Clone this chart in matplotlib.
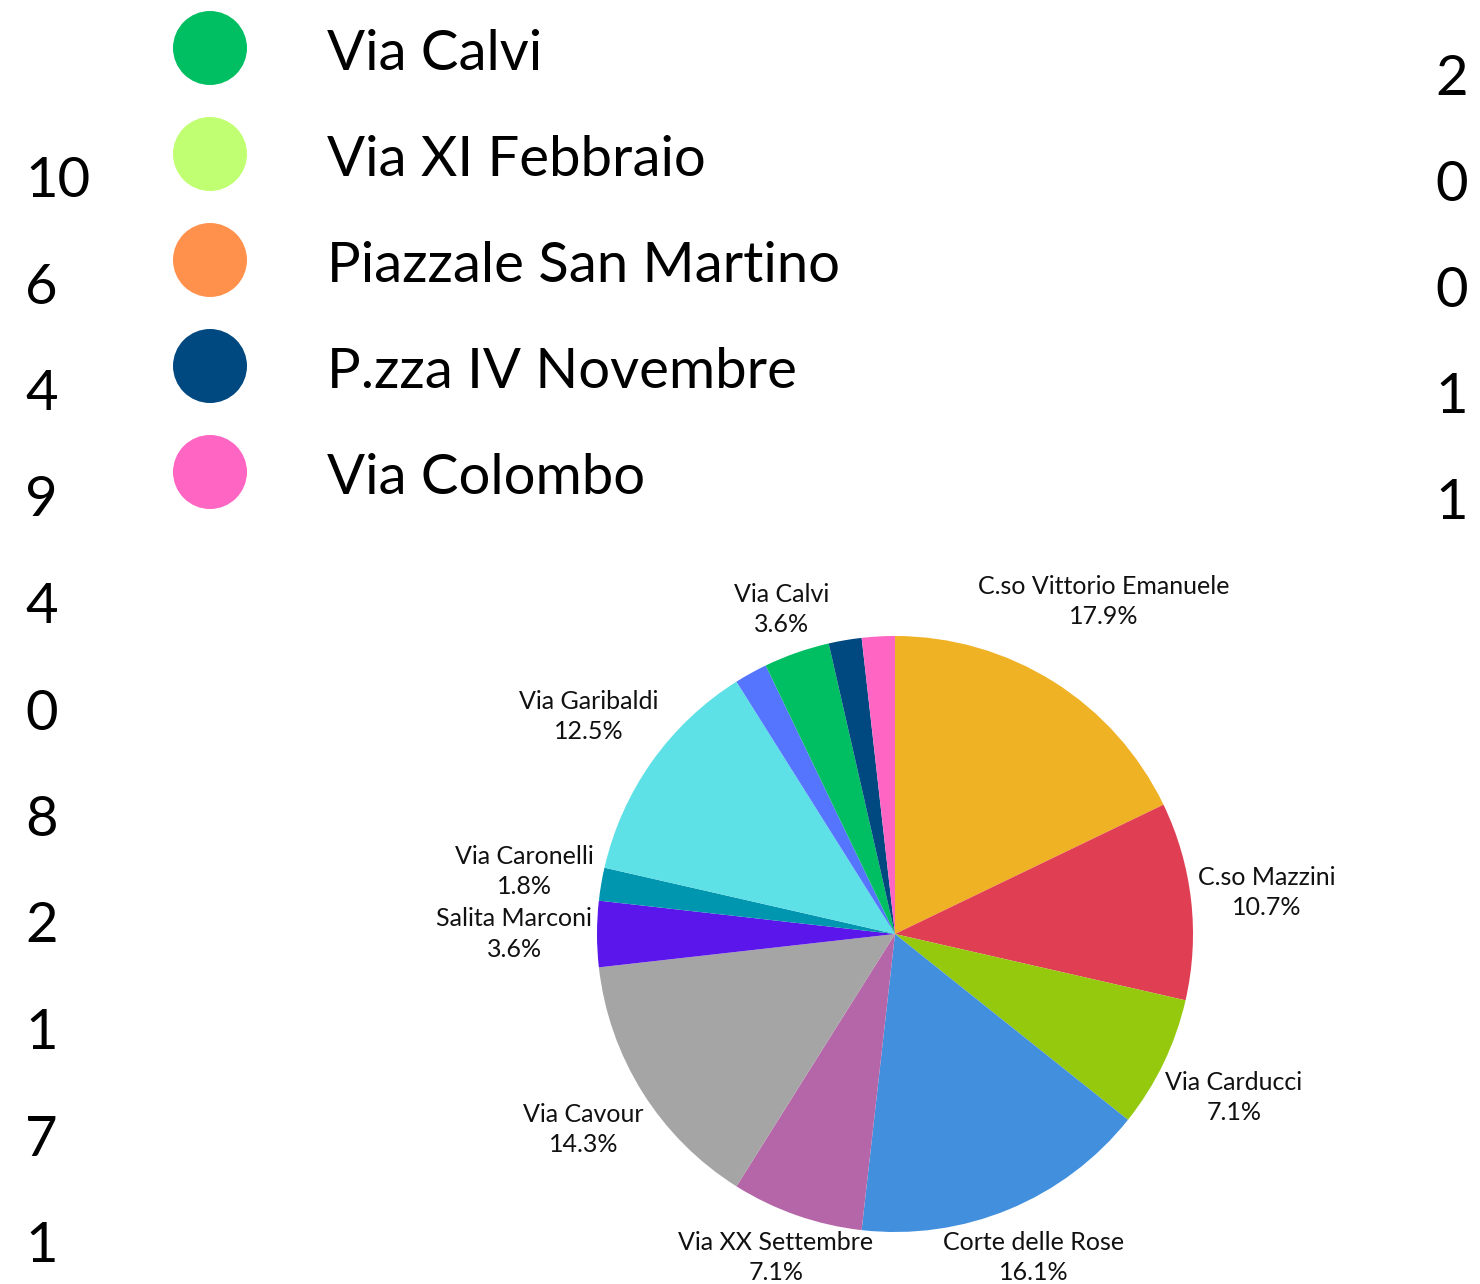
import math
import matplotlib
matplotlib.use("Agg")
import matplotlib.pyplot as plt
from matplotlib.patches import Circle

plt.rcParams['font.family'] = ['Lato', 'DejaVu Sans']

# ---------------- data ----------------
# first legend column (names fall outside the picture, only values visible)
left_names = ["C.so Vittorio Emanuele", "C.so Mazzini", "Via Carducci", "Corte delle Rose",
              "Via XX Settembre", "", "Via Cavour", "Salita Marconi", "Via Caronelli",
              "Via Garibaldi", ""]
left_values = [10, 6, 4, 9, 4, 0, 8, 2, 1, 7, 1]
left_colors = ["#EFB225", "#E03E52", "#95C90E", "#428FDE", "#B466A8", "#FFDE59",
               "#A5A5A5", "#5B17EB", "#0096B0", "#5DE0E6", "#5575FF"]
left_show = [True, True, True, True, True, True, True, True, True, True, False]

# second legend column
right_names = ["Via Calvi", "Via XI Febbraio", "Piazzale San Martino", "P.zza IV Novembre", "Via Colombo"]
right_values = [2, 0, 0, 1, 1]
right_colors = ["#00BF63", "#C1FF72", "#FF914D", "#004880", "#FF66C4"]
right_show = [True, True, True, False, False]

# ---------------- figure ----------------
W, H = 1480, 1284
fig = plt.figure(figsize=(W / 100, H / 100), dpi=100)
ax = fig.add_axes([0, 0, 1, 1])

def Y(py):
    return H - py

names = left_names + right_names
values = left_values + right_values
colors = left_colors + right_colors
show = left_show + right_show
idx = [i for i, v in enumerate(values) if v > 0]
p_vals = [values[i] for i in idx]
p_cols = [colors[i] for i in idx]
p_names = [names[i] for i in idx]
p_show = [show[i] for i in idx]

cx, cy, r = 895, Y(934), 298
wedges, _ = ax.pie(p_vals, colors=p_cols, startangle=90, counterclock=False,
                   center=(cx, cy), radius=r, wedgeprops=dict(linewidth=0))
ax.set_xlim(0, W)
ax.set_ylim(0, H)
ax.set_aspect('equal', adjustable='box')
ax.axis('off')

total = sum(p_vals)
label_texts = []
for w, n, v, s in zip(wedges, p_names, p_vals, p_show):
    if not s:
        continue
    t = ax.text(cx, cy, f"{n}\n{100 * v / total:.1f}%", ha='center', va='center',
                fontsize=18, color='#111111', linespacing=1.37)
    ang = math.radians((w.theta1 + w.theta2) / 2)
    label_texts.append((t, ang))

fig.canvas.draw()
renderer = fig.canvas.get_renderer()
gap = 5
for t, ang in label_texts:
    bb = t.get_window_extent(renderer)
    ext = abs(math.cos(ang)) * bb.width / 2 + abs(math.sin(ang)) * bb.height / 2
    R = r + gap + ext
    x = cx + R * math.cos(ang)
    y = cy + R * math.sin(ang)
    y = max(y, bb.height / 2)  # keep the label inside the canvas
    t.set_position((x, y))

# legend, second column
for i, (n, c, v) in enumerate(zip(right_names, right_colors, right_values)):
    ax.add_patch(Circle((210, Y(48 + 106 * i)), 37, color=c, lw=0))
    ax.text(327, Y(70 + 106 * i), n, fontsize=40.5, ha='left', va='baseline', color='black')
    ax.text(1435, Y(95 + 106 * i), str(v), fontsize=40.5, ha='left', va='baseline', color='black')

# legend, first column values
for i, v in enumerate(left_values):
    ax.text(25, Y(197 + 106.5 * i), str(v), fontsize=40.5, ha='left', va='baseline', color='black')

fig.savefig("out.png", dpi=100)
